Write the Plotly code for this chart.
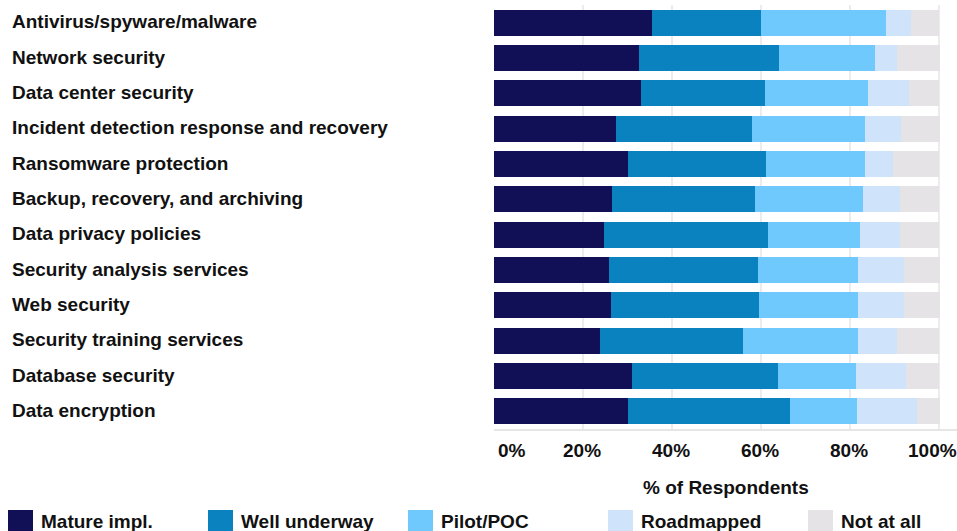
import plotly.graph_objects as go

# Survey: deployment status of security technologies (% of respondents)
categories = [
    "Antivirus/spyware/malware",
    "Network security",
    "Data center security",
    "Incident detection response and recovery",
    "Ransomware protection",
    "Backup, recovery, and archiving",
    "Data privacy policies",
    "Security analysis services",
    "Web security",
    "Security training services",
    "Database security",
    "Data encryption",
]

status_names = ["Mature impl.", "Well underway", "Pilot/POC", "Roadmapped", "Not at all"]

mature_impl = [35.4, 32.6, 33.0, 27.5, 30.2, 26.6, 24.7, 25.8, 26.3, 23.9, 31.0, 30.2]
well_underway = [24.5, 31.4, 27.8, 30.5, 30.9, 32.1, 36.8, 33.4, 33.3, 32.1, 32.9, 36.2]
pilot_poc = [28.2, 21.5, 23.3, 25.4, 22.2, 24.2, 20.6, 22.6, 22.2, 25.8, 17.5, 15.1]
roadmapped = [5.6, 5.1, 9.2, 8.0, 6.4, 8.4, 9.2, 10.4, 10.4, 8.7, 11.1, 13.5]
not_at_all = [6.3, 9.5, 6.7, 8.7, 10.3, 8.7, 8.7, 7.9, 7.9, 9.5, 7.5, 5.1]

tick_values = [0, 20, 40, 60, 80, 100]
tick_labels = ["0%", "20%", "40%", "60%", "80%", "100%"]

series = [mature_impl, well_underway, pilot_poc, roadmapped, not_at_all]
colors = ["#110f55", "#0a82c0", "#70c9fd", "#cfe3fb", "#e5e3e6"]

FONT = "Arial, 'Liberation Sans', sans-serif"
TEXT_COLOR = "#111111"
FS = 19
W, H = 957, 531
M_L, M_R, M_T, M_B = 494, 0, 5, 102
plot_w = W - M_L - M_R
plot_h = H - M_T - M_B


def px_x(px):
    """Convert an absolute pixel x to paper coordinates."""
    return (px - M_L) / plot_w


def px_y(py):
    """Convert an absolute pixel y (from top) to paper coordinates."""
    return (H - M_B - py) / plot_h


def bold_font():
    return dict(family=FONT, size=FS, color=TEXT_COLOR)


fig = go.Figure()
for name, vals, col in zip(status_names, series, colors):
    fig.add_trace(go.Bar(
        y=categories, x=vals, name=name, orientation="h",
        marker=dict(color=col, line=dict(width=0)),
        showlegend=False,
    ))

annotations = []

# Left-aligned category labels
for cat in categories:
    annotations.append(dict(
        x=px_x(10), xref="paper", y=cat, yref="y",
        text="<b>" + cat + "</b>", showarrow=False,
        xanchor="left", yanchor="middle", yshift=1,
        font=bold_font(),
    ))

# Percentage tick labels (end labels pulled inside the plot edges)
for i, (val, lab) in enumerate(zip(tick_values, tick_labels)):
    if i == 0:
        anchor, shift = "left", 2
    elif i == len(tick_values) - 1:
        anchor, shift = "center", -7
    else:
        anchor, shift = "center", -1
    annotations.append(dict(
        x=val, xref="x", y=px_y(450), yref="paper",
        text="<b>" + lab + "</b>", showarrow=False,
        xanchor=anchor, yanchor="middle", xshift=shift,
        font=bold_font(),
    ))

# Axis title
annotations.append(dict(
    x=px_x(726), xref="paper", y=px_y(487), yref="paper",
    text="<b>% of Respondents</b>", showarrow=False,
    xanchor="center", yanchor="middle", font=bold_font(),
))

# Custom legend along the bottom
shapes = []
for i, (name, col) in enumerate(zip(status_names, colors)):
    x0 = 8 + 200 * i
    shapes.append(dict(
        type="rect", xref="paper", yref="paper",
        x0=px_x(x0), x1=px_x(x0 + 25), y0=px_y(532), y1=px_y(510),
        fillcolor=col, line=dict(width=0),
    ))
    annotations.append(dict(
        x=px_x(x0 + 31), xref="paper", y=px_y(521), yref="paper",
        text="<b>" + name + "</b>", showarrow=False,
        xanchor="left", yanchor="middle", font=bold_font(),
    ))

fig.update_layout(
    width=W, height=H,
    margin=dict(l=M_L, r=M_R, t=M_T, b=M_B, pad=0),
    barmode="stack", bargap=0.26,
    plot_bgcolor="white", paper_bgcolor="white",
    font=dict(family=FONT, size=FS, color=TEXT_COLOR),
    annotations=annotations, shapes=shapes,
    xaxis=dict(
        range=[0, 104], tickvals=tick_values, showticklabels=False,
        showgrid=True, gridcolor="#ececec", gridwidth=2,
        zeroline=False, showline=True, linecolor="#e6e6e6", linewidth=2,
        ticks="", fixedrange=True,
    ),
    yaxis=dict(
        autorange="reversed", showticklabels=False, showgrid=False,
        zeroline=False, fixedrange=True,
    ),
)

fig.write_html("out.html")
